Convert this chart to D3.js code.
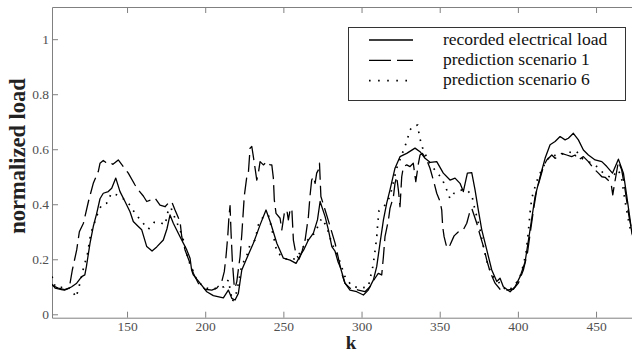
<!DOCTYPE html>
<html>
<head>
<meta charset="utf-8">
<script src="https://cdn.jsdelivr.net/npm/d3@7"></script>
<style>
    body { margin: 0; background: #fff; }
    svg { display: block; }
    svg text { font-family: "Liberation Serif", "Times New Roman", Times, "DejaVu Serif", serif; }
</style>
</head>
<body>
<svg width="632" height="352"></svg>
<script>
// recorded electrical load (solid)
let kRecorded = [102, 104, 106, 108, 110, 112, 114.6, 117.8, 121, 123, 124, 126.3, 128.4, 130.6, 132.7, 134.8, 138, 140.2, 142.8,
    145.5, 148.7, 151.9, 154, 157.2, 159.4, 162.6, 164.7, 166, 169, 173.2, 175.5, 177.5, 179.6, 183.9, 188.2, 190.3, 191.3,
    192.4, 196.7, 201, 205.2, 211.6, 214.8, 217, 219.1, 221.2, 223.4, 226.6, 230.8, 235.1, 238.9, 241.9, 245.8, 250, 254.3,
    258.1, 261.7, 263, 266, 269.2, 271.8, 273.5, 276.7, 278.8, 281, 283, 285, 286.5, 289.4, 292.6, 296.9, 301.2, 304.3, 307.6,
    309.7, 311.8, 314, 316.1, 318.2, 321.4, 324.6, 328.9, 334.2, 337.4, 340.6, 344, 348.1, 352.3, 356.6, 359.8, 363, 365.1,
    367.7, 370.5, 372.6, 374.7, 376.9, 380.1, 383.3, 386.5, 388.6, 390.7, 395, 398.2, 401.4, 404.6, 407.6, 411, 414.2, 417.4,
    420.6, 423.8, 427, 430.2, 432.3, 435.5, 438.7, 441.9, 445.1, 449.4, 453.7, 456.9, 460.5, 464.3, 467.5, 469.7, 471.8, 473];
let recorded = [0.11, 0.095, 0.092, 0.09, 0.088, 0.092, 0.1, 0.113, 0.137, 0.143, 0.173, 0.258, 0.319, 0.367, 0.42, 0.44, 0.446, 0.458, 0.495,
    0.446, 0.41, 0.373, 0.337, 0.319, 0.307, 0.246, 0.236, 0.23, 0.245, 0.27, 0.31, 0.361, 0.331, 0.282, 0.234, 0.204, 0.161,
    0.143, 0.113, 0.082, 0.068, 0.06, 0.088, 0.058, 0.052, 0.076, 0.161, 0.204, 0.258, 0.325, 0.379, 0.331, 0.258, 0.204, 0.197,
    0.185, 0.222, 0.234, 0.27, 0.295, 0.343, 0.41, 0.355, 0.307, 0.246, 0.23, 0.19, 0.17, 0.113, 0.088, 0.082, 0.07, 0.088, 0.125,
    0.173, 0.258, 0.343, 0.404, 0.452, 0.531, 0.573, 0.585, 0.604, 0.591, 0.567, 0.552, 0.555, 0.513, 0.488, 0.495, 0.476, 0.446,
    0.513, 0.515, 0.452, 0.379, 0.307, 0.234, 0.161, 0.119, 0.131, 0.1, 0.082, 0.1, 0.137, 0.19, 0.3, 0.428, 0.5, 0.567,
    0.616, 0.628, 0.646, 0.634, 0.64, 0.658, 0.634, 0.597, 0.579, 0.561, 0.555, 0.537, 0.513, 0.564, 0.513, 0.428, 0.343, 0.29];

// prediction scenario 1 (dashed)
let kScenario1 = [102, 106, 110, 113, 115, 117.8, 119.5, 122.1, 125.3, 128.4, 131.6, 132.7, 134.8, 136.5, 138, 141, 144.4, 147.6, 150.8,
    155.1, 157.2, 160.4, 162.6, 165, 167.9, 171.1, 174.3, 176.4, 178.5, 180.7, 183.9, 185, 187.1, 190.3, 192.4, 195.6, 199.9,
    204.2, 207.4, 210.6, 212.2, 213.3, 214.4, 215.2, 215.9, 216.5, 217.4, 218.6, 219.1, 220.2, 222.3, 223.4, 225, 226.6, 227.6,
    228.7, 229.8, 230.8, 233, 234, 235.1, 237.2, 239.4, 241.5, 242.6, 243.6, 244.2, 245.3, 247.9, 249, 250.6, 252.2, 253.2,
    254.3, 255.4, 256.4, 258, 260, 262, 263.9, 266, 267, 268.1, 269.2, 270.3, 271.3, 272.4, 273.1, 274, 276.7, 279.9, 283.1,
    287.3, 289.4, 292.6, 298, 302.2, 305.4, 308.6, 310.7, 312.9, 314, 315, 317.2, 318.2, 320.4, 321.4, 322.5, 323.6, 324.6,
    325.2, 325.7, 326.8, 328.9, 331, 333.1, 334.7, 336.4, 337.4, 338.9, 341.7, 343.8, 346.3, 348.1, 350.2, 351.3, 351.9, 352.8,
    354.1, 355.5, 356.6, 359.2, 362, 365.1, 367.3, 369, 370.5, 373.7, 375.8, 378, 380.1, 382.2, 385.4, 388.6, 392.9, 397.1,
    400.3, 403.5, 406.1, 408, 410, 412, 414.5, 416.5, 418.5, 421.7, 423.8, 425.9, 428, 431.2, 434.4, 436.6, 438.7, 441.9, 445.1,
    448.3, 451.5, 453.7, 455.8, 459.6, 460.7, 461.7, 464.3, 466.4, 468.6, 471.1, 472.8];
let scenario1 = [0.105, 0.095, 0.09, 0.095, 0.161, 0.234, 0.3, 0.331, 0.41, 0.476, 0.519, 0.549, 0.559, 0.552, 0.555, 0.545, 0.561, 0.537, 0.513,
    0.47, 0.452, 0.43, 0.41, 0.415, 0.422, 0.397, 0.391, 0.404, 0.41, 0.379, 0.337, 0.282, 0.234, 0.185, 0.149, 0.113, 0.091,
    0.088, 0.095, 0.119, 0.155, 0.21, 0.282, 0.355, 0.395, 0.3, 0.19, 0.1, 0.095, 0.119, 0.21, 0.29, 0.43, 0.5, 0.513,
    0.604, 0.61, 0.573, 0.488, 0.513, 0.555, 0.543, 0.555, 0.543, 0.543, 0.495, 0.416, 0.367, 0.349, 0.307, 0.367, 0.379, 0.343,
    0.379, 0.385, 0.27, 0.22, 0.2, 0.23, 0.27, 0.355, 0.428, 0.488, 0.5, 0.476, 0.513, 0.525, 0.549, 0.428, 0.379, 0.319, 0.258,
    0.149, 0.113, 0.095, 0.088, 0.082, 0.1, 0.131, 0.149, 0.143, 0.21, 0.282, 0.343, 0.385, 0.428, 0.476, 0.5, 0.45, 0.391,
    0.45, 0.5, 0.537, 0.543, 0.537, 0.549, 0.482, 0.549, 0.579, 0.585, 0.561, 0.531, 0.48, 0.44, 0.41, 0.379, 0.319, 0.282,
    0.252, 0.24, 0.252, 0.285, 0.3, 0.307, 0.331, 0.367, 0.385, 0.331, 0.288, 0.246, 0.197, 0.155, 0.113, 0.091, 0.088, 0.091,
    0.113, 0.161, 0.222, 0.3, 0.38, 0.45, 0.5, 0.54, 0.561, 0.579, 0.567, 0.573, 0.585, 0.579, 0.573, 0.579, 0.561, 0.573, 0.555,
    0.531, 0.513, 0.5, 0.498, 0.477, 0.434, 0.47, 0.555, 0.525, 0.452, 0.355, 0.307];

// prediction scenario 6 (dotted)
let kScenario6 = [102, 104, 108, 112, 115, 117.4, 119.3, 122.5, 124.6, 126.8, 129.5, 131.6, 134, 137, 140, 143.4, 147.6, 151.9, 155.1,
    159.4, 163.6, 167.3, 171.1, 174.3, 176.4, 178, 180.7, 183.9, 186, 189.2, 192, 194.6, 198.8, 203.1, 208.4, 212, 214.8,
    217.4, 220.2, 223.4, 226.1, 228.5, 231.9, 234, 237.2, 240.4, 242.6, 245.8, 250, 254.3, 258.5, 262.8, 267, 270.3, 272.4,
    274.5, 277.7, 281, 285, 289.4, 293.7, 299, 304.3, 307.2, 308.2, 309.1, 309.9, 310.4, 311.2, 315, 318.2, 322.5, 325.7,
    328.9, 331, 333.1, 336, 337, 338.9, 342.8, 346, 348.5, 351.3, 354.1, 356.6, 359.2, 364.1, 368, 370.5, 372, 373.7, 375.8,
    378.4, 381.1, 384.3, 387.5, 389.7, 393.9, 398.2, 401.4, 403.5, 405.2, 406.7, 407.8, 408.9, 411, 413.1, 416.3, 418.5,
    421.7, 425.9, 429.1, 432.3, 435.5, 437.7, 440.9, 445.1, 449.4, 454.7, 460, 463.9, 466, 468.6, 470.7, 472.8];
let scenario6 = [0.137, 0.1, 0.098, 0.1, 0.085, 0.062, 0.1, 0.176, 0.216, 0.294, 0.337, 0.373, 0.4, 0.404, 0.44, 0.434, 0.42, 0.397, 0.367,
    0.337, 0.309, 0.334, 0.334, 0.325, 0.379, 0.389, 0.349, 0.307, 0.27, 0.197, 0.161, 0.125, 0.1, 0.091, 0.095, 0.1, 0.125,
    0.046, 0.082, 0.18, 0.204, 0.25, 0.27, 0.325, 0.355, 0.361, 0.31, 0.228, 0.204, 0.197, 0.204, 0.246, 0.282, 0.295, 0.325,
    0.349, 0.319, 0.258, 0.21, 0.137, 0.103, 0.095, 0.1, 0.173, 0.212, 0.252, 0.292, 0.333, 0.377, 0.397, 0.428, 0.531, 0.579,
    0.628, 0.67, 0.685, 0.688, 0.646, 0.607, 0.555, 0.531, 0.513, 0.495, 0.458, 0.42, 0.44, 0.452, 0.448, 0.434, 0.394, 0.355, 0.307,
    0.234, 0.173, 0.137, 0.119, 0.1, 0.086, 0.107, 0.137, 0.179, 0.222, 0.3, 0.37, 0.422, 0.464, 0.5, 0.537, 0.561,
    0.579, 0.576, 0.585, 0.591, 0.585, 0.591, 0.567, 0.555, 0.543, 0.513, 0.495, 0.525, 0.506, 0.41, 0.343, 0.288];

let xTicks = [150, 200, 250, 300, 350, 400, 450];
let yTicks = [0, 0.2, 0.4, 0.6, 0.8, 1];
let legendLabels = ['recorded electrical load', 'prediction scenario 1', 'prediction scenario 6'];

let plot = { left: 52, right: 632, top: 7, bottom: 317.7 };
let axisColor = '#808080';
let labelColor = '#505050';
let serif = '"Liberation Serif", "Times New Roman", Times, "DejaVu Serif", serif';

let svg = d3.select('svg');

let scaleX = d3.scaleLinear()
    .domain([102, 473])
    .range([plot.left, plot.right]);

let scaleY = d3.scaleLinear()
    .domain([-0.0124, 1.117])
    .range([plot.bottom, plot.top]);

// axes, ticks pointing inwards
let xAxis = d3.axisBottom(scaleX)
    .tickValues(xTicks)
    .tickSizeInner(-6)
    .tickSizeOuter(0)
    .tickPadding(4)
    .tickFormat(d3.format('d'));

let xAxisG = svg.append('g')
    .attr('transform', `translate(0, ${plot.bottom})`)
    .call(xAxis);

let topAxis = d3.axisTop(scaleX)
    .tickValues(xTicks)
    .tickSizeInner(-6)
    .tickSizeOuter(0)
    .tickFormat('');

let topAxisG = svg.append('g')
    .attr('transform', `translate(0, ${plot.top})`)
    .call(topAxis);

let yAxis = d3.axisLeft(scaleY)
    .tickValues(yTicks)
    .tickSizeInner(-6)
    .tickSizeOuter(0)
    .tickPadding(3)
    .tickFormat(d => d === 0 || d === 1 ? d3.format('d')(d) : d3.format('.1f')(d));

let yAxisG = svg.append('g')
    .attr('transform', `translate(${plot.left}, 0)`)
    .call(yAxis);

[xAxisG, topAxisG, yAxisG].forEach(g => {
    g.attr('font-family', serif).attr('font-size', 13.5);
    g.selectAll('path, line').attr('stroke', axisColor).attr('stroke-width', 1);
    g.selectAll('text').attr('fill', labelColor);
});

// series
svg.append('clipPath').attr('id', 'plot-clip')
    .append('rect')
    .attr('x', plot.left)
    .attr('y', plot.top)
    .attr('width', plot.right - plot.left)
    .attr('height', plot.bottom - plot.top);

let line = d3.line()
    .x(d => scaleX(d[0]))
    .y(d => scaleY(d[1]));

let series = [
    { k: kRecorded, v: recorded, dash: null, width: 1.3 },
    { k: kScenario1, v: scenario1, dash: '17,6', width: 1.3 },
    { k: kScenario6, v: scenario6, dash: '1.6,6.5', width: 1.7 }
];

let lines = svg.append('g').attr('clip-path', 'url(#plot-clip)');

series.forEach(s => {
    lines.append('path')
        .datum(d3.zip(s.k, s.v))
        .attr('fill', 'none')
        .attr('stroke', '#000')
        .attr('stroke-width', s.width)
        .attr('stroke-linejoin', 'round')
        .attr('stroke-dasharray', s.dash)
        .attr('d', line);
});

// axis titles
svg.append('text')
    .attr('transform', 'translate(25, 156) rotate(-90)')
    .attr('text-anchor', 'middle')
    .attr('font-family', serif)
    .attr('font-size', 22.5)
    .attr('font-weight', 'bold')
    .attr('fill', '#222')
    .text('normalized load');

svg.append('text')
    .attr('x', 351)
    .attr('y', 349)
    .attr('text-anchor', 'middle')
    .attr('font-family', serif)
    .attr('font-size', 19)
    .attr('font-weight', 'bold')
    .attr('fill', '#222')
    .text('k');

// legend
let legend = svg.append('g');

legend.append('rect')
    .attr('x', 348.5)
    .attr('y', 27.5)
    .attr('width', 277)
    .attr('height', 73)
    .attr('fill', '#fff')
    .attr('stroke', '#333')
    .attr('stroke-width', 1);

legendLabels.forEach((label, i) => {
    let y = 40 + i * 20.3;
    legend.append('line')
        .attr('x1', 369)
        .attr('x2', 413)
        .attr('y1', y)
        .attr('y2', y)
        .attr('stroke', '#000')
        .attr('stroke-width', series[i].width)
        .attr('stroke-dasharray', i === 1 ? '22,6' : (i === 2 ? '1.6,7.5' : null));
    legend.append('text')
        .attr('x', 443)
        .attr('y', y + 4.8)
        .attr('font-family', serif)
        .attr('font-size', 17.5)
        .attr('fill', '#111')
        .text(label);
});
</script>
</body>
</html>
